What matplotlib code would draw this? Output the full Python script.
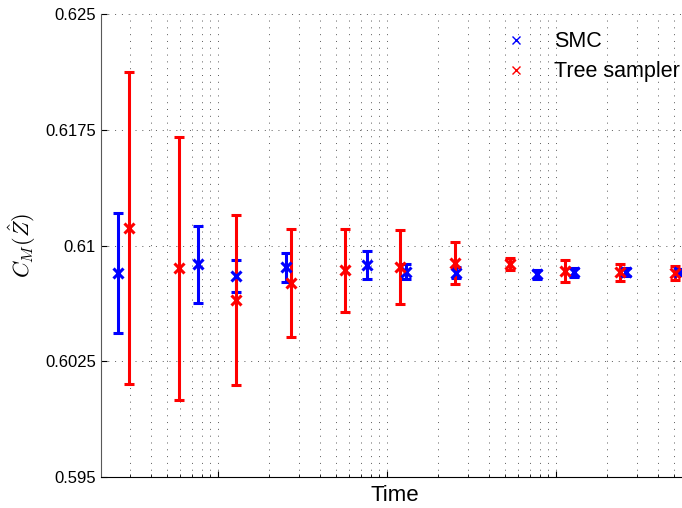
import matplotlib

matplotlib.use("Agg")
import matplotlib.pyplot as plt
from matplotlib.lines import Line2D

plt.rcParams["font.family"] = ["Liberation Sans", "DejaVu Sans"]
plt.rcParams["mathtext.fontset"] = "cm"

# SMC estimates
smc_time = [25.6, 76, 128, 252, 762, 1295, 2560, 7730, 12800, 25900, 53500]
smc_mean = [0.60824, 0.60878, 0.60804, 0.60859, 0.60874, 0.60830, 0.60824, 0.60815, 0.60826, 0.60830, 0.60828]
smc_err = [0.0039, 0.0025, 0.00105, 0.00095, 0.00088, 0.00048, 0.00037, 0.00029, 0.00029, 0.00028, 0.0002]

# tree sampler estimates
tree_time = [29.7, 58.7, 128, 270, 564, 1194, 2520, 5350, 11300, 23900, 50600]
tree_mean = [0.61115, 0.60852, 0.60647, 0.60755, 0.60839, 0.60862, 0.60885, 0.60880, 0.60837, 0.60826, 0.60824]
tree_err = [0.0101, 0.0085, 0.0055, 0.0035, 0.00267, 0.0024, 0.00137, 0.00038, 0.00073, 0.00056, 0.00045]

y_ticks = [0.595, 0.6025, 0.61, 0.6175, 0.625]
y_tick_labels = ["0.595", "0.6025", "0.61", "0.6175", "0.625"]

fig = plt.figure(figsize=(6.82, 5.08), dpi=100)
ax = fig.add_axes([0.148, 0.061, 0.862, 0.911])

style = dict(fmt="x", markersize=7, mew=2.2, elinewidth=2.2, capsize=3.6, capthick=2.2, zorder=3)
ax.errorbar(smc_time, smc_mean, yerr=smc_err, color="#0000ff", **style)
ax.errorbar(tree_time, tree_mean, yerr=tree_err, color="#ff0000", **style)

ax.set_xscale("log")
ax.set_xlim(20.3, 61200)
ax.set_ylim(0.595, 0.625)
ax.set_yticks(y_ticks)
ax.set_yticklabels(y_tick_labels)
ax.tick_params(axis="x", which="both", labelbottom=False, direction="in")
ax.tick_params(axis="x", which="major", length=4)
ax.tick_params(axis="x", which="minor", length=2.5)
ax.tick_params(axis="y", direction="in", length=4, labelsize=12)

grid_kw = dict(color="0.35", linestyle=(0, (1, 6)), linewidth=0.7)
ax.grid(True, which="both", axis="x", **grid_kw)
ax.grid(True, which="major", axis="y", **grid_kw)
ax.set_axisbelow(True)

ax.spines["top"].set_visible(False)
ax.spines["right"].set_visible(False)
ax.spines["left"].set_color("0.35")

ax.set_xlabel("Time", fontsize=16, labelpad=6)
ax.set_ylabel(r"$C_M(\hat{Z})$", fontsize=16, labelpad=5)

handles = [
    Line2D([], [], linestyle="none", marker="x", color="#0000ff", markersize=6, mew=1),
    Line2D([], [], linestyle="none", marker="x", color="#ff0000", markersize=6, mew=1),
]
fig.legend(handles, ["SMC", "Tree sampler"], loc="upper left", bbox_to_anchor=(0.697, 0.977),
           frameon=False, fontsize=15.5, handletextpad=0.75, labelspacing=0.42)

fig.savefig("out.png", dpi=100)
